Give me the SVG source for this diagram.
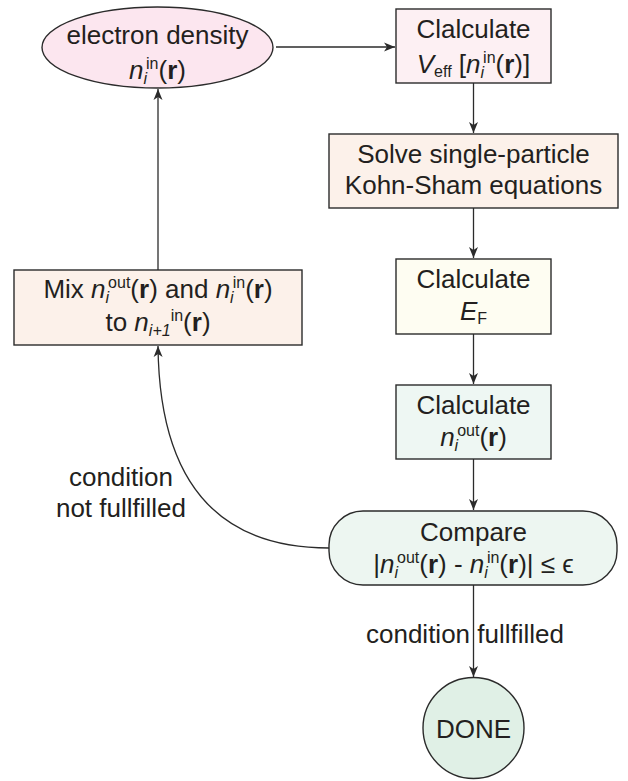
<svg xmlns="http://www.w3.org/2000/svg" width="628" height="781" viewBox="0 0 628 781">
<style>
text{font-family:"Liberation Sans",Arial,sans-serif;font-size:26px;fill:#231f20;text-anchor:middle}
.it{font-style:italic}
.b{font-weight:bold}
.sm{font-size:16px}
.node{stroke:#2b2b2b;stroke-width:1.4}
.con{fill:none;stroke:#2b2b2b;stroke-width:1.3}
</style>
<defs>
<marker id="ah" markerWidth="12" markerHeight="10" refX="11" refY="5" orient="auto" markerUnits="userSpaceOnUse">
<path d="M0,0.5 L11,5 L0,9.5 L3,5 z" fill="#2b2b2b"/>
</marker>
</defs>
<rect width="628" height="781" fill="#fff"/>
<g id="connectors">
<path class="con" d="M276,47 H395" marker-end="url(#ah)"/>
<path class="con" d="M473.5,83 V133" marker-end="url(#ah)"/>
<path class="con" d="M473.5,208 V258" marker-end="url(#ah)"/>
<path class="con" d="M473.5,334 V384" marker-end="url(#ah)"/>
<path class="con" d="M473.5,459 V510" marker-end="url(#ah)"/>
<path class="con" d="M473.5,585 V677" marker-end="url(#ah)"/>
<path class="con" d="M329,548 Q160,548 158,346" marker-end="url(#ah)"/>
<path class="con" d="M158,270 V89" marker-end="url(#ah)"/>
<text x="121" y="486">condition</text>
<text x="121" y="517">not fullfilled</text>
<text x="465" y="643">condition fullfilled</text>
</g>
<g id="density">
<ellipse class="node" cx="157.5" cy="47.5" rx="115.5" ry="40.5" fill="#fce6ef"/>
<text x="157.5" y="44">electron density</text>
<text x="157.5" y="79"><tspan class="it">n</tspan><tspan class="sm it" dy="5">i</tspan><tspan class="sm" dx="-1" dy="-15">in</tspan><tspan dy="10">(</tspan><tspan class="b">r</tspan>)</text>
</g>
<g id="veff">
<rect class="node" x="396" y="9" width="155" height="74" fill="#fdf0f3"/>
<text x="473.5" y="38">Clalculate</text>
<text x="473.5" y="73"><tspan class="it">V</tspan><tspan class="sm" dy="4">eff</tspan><tspan dy="-4"> [</tspan><tspan class="it">n</tspan><tspan class="sm it" dy="5">i</tspan><tspan class="sm" dx="-1" dy="-15">in</tspan><tspan dy="10">(</tspan><tspan class="b">r</tspan>)]</text>
</g>
<g id="solve">
<rect class="node" x="329" y="134" width="289" height="74" fill="#fcf1ea"/>
<text x="473.5" y="163">Solve single-particle</text>
<text x="473.5" y="194">Kohn-Sham equations</text>
</g>
<g id="fermi">
<rect class="node" x="396" y="259" width="155" height="75" fill="#fefdf2"/>
<text x="473.5" y="288">Clalculate</text>
<text x="473.5" y="320"><tspan class="it">E</tspan><tspan class="sm" dy="4">F</tspan></text>
</g>
<g id="nout">
<rect class="node" x="396" y="385" width="155" height="74" fill="#eef7f3"/>
<text x="473.5" y="414">Clalculate</text>
<text x="473.5" y="446"><tspan class="it">n</tspan><tspan class="sm it" dy="5">i</tspan><tspan class="sm" dx="-1" dy="-15">out</tspan><tspan dy="10">(</tspan><tspan class="b">r</tspan>)</text>
</g>
<g id="compare">
<rect class="node" x="329" y="511" width="288" height="74" rx="34" ry="34" fill="#edf6f1"/>
<text x="473.5" y="541">Compare</text>
<text x="473.5" y="573">|<tspan class="it">n</tspan><tspan class="sm it" dy="5">i</tspan><tspan class="sm" dx="-1" dy="-15">out</tspan><tspan dy="10">(</tspan><tspan class="b">r</tspan>) - <tspan class="it">n</tspan><tspan class="sm it" dy="5">i</tspan><tspan class="sm" dx="-1" dy="-15">in</tspan><tspan dy="10">(</tspan><tspan class="b">r</tspan>)| ≤ ϵ</text>
</g>
<g id="mix">
<rect class="node" x="14" y="270" width="288" height="75" fill="#fcf1ea"/>
<text x="158" y="298">Mix <tspan class="it">n</tspan><tspan class="sm it" dy="5">i</tspan><tspan class="sm" dx="-1" dy="-15">out</tspan><tspan dy="10">(</tspan><tspan class="b">r</tspan>) and <tspan class="it">n</tspan><tspan class="sm it" dy="5">i</tspan><tspan class="sm" dx="-1" dy="-15">in</tspan><tspan dy="10">(</tspan><tspan class="b">r</tspan>)</text>
<text x="158" y="331">to <tspan class="it">n</tspan><tspan class="sm it" dy="5">i+1</tspan><tspan class="sm" dy="-15">in</tspan><tspan dy="10">(</tspan><tspan class="b">r</tspan>)</text>
</g>
<g id="done">
<circle class="node" cx="473.5" cy="728" r="50.5" fill="#e0f0e6"/>
<text x="473.5" y="738">DONE</text>
</g>
</svg>
